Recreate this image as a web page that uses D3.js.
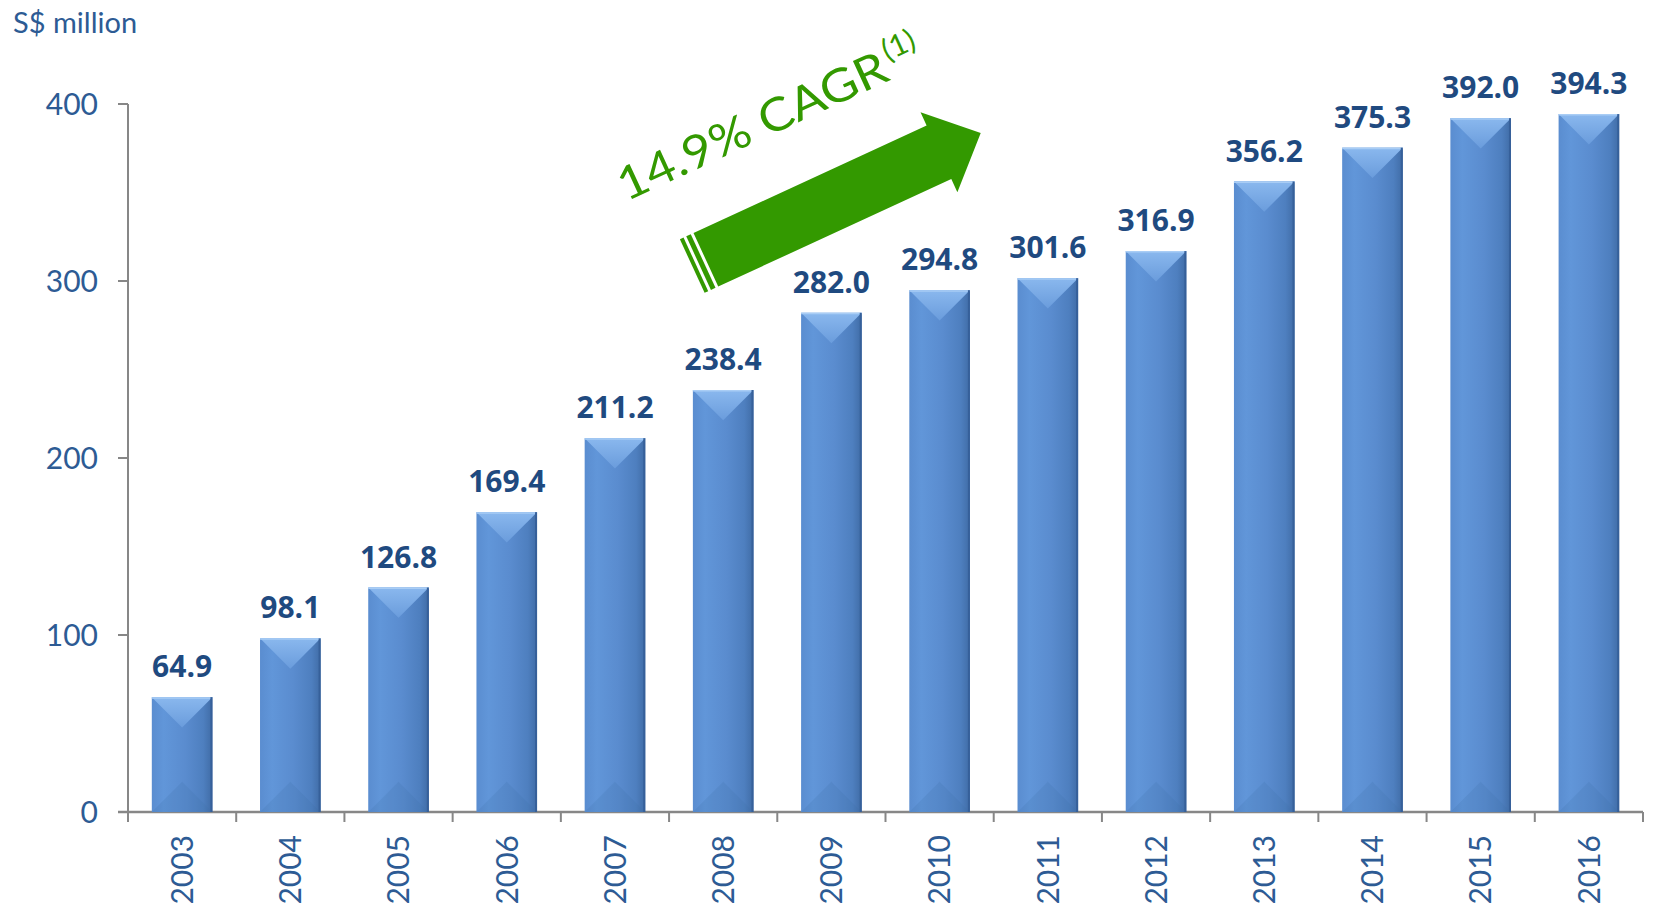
<!DOCTYPE html>
<html>
<head>
<meta charset="utf-8">
<script src="https://cdn.jsdelivr.net/npm/d3@7"></script>
<style>
  body { margin: 0; background: #fff; }
  svg { display: block; }
</style>
</head>
<body>
<script>
// categories & values
var years = ['2003','2004','2005','2006','2007','2008','2009','2010','2011','2012','2013','2014','2015','2016'];
var revenue = [64.9, 98.1, 126.8, 169.4, 211.2, 238.4, 282.0, 294.8, 301.6, 316.9, 356.2, 375.3, 392.0, 394.3];
var yTicks = [0, 100, 200, 300, 400];
var unitLabel = 'S$ million';
var cagrLabel = '14.9% CAGR';
var cagrNote = '(1)';

var W = 1653, H = 916;
var LEFT = 128, RIGHT = 1643, BASE = 812, TOP = 104;

var svg = d3.select('body').append('svg')
  .attr('width', W).attr('height', H);

var x = d3.scaleBand().domain(years).range([LEFT, RIGHT]).padding(0);
var y = d3.scaleLinear().domain([0, 400]).range([BASE, TOP]);
var barW = x.bandwidth() * 0.56;

// ---- gradients for the bevelled bars
var defs = svg.append('defs');
var side = defs.append('linearGradient').attr('id', 'barSide')
  .attr('x1', 0).attr('x2', 1).attr('y1', 0).attr('y2', 0);
side.append('stop').attr('offset', '0%').attr('stop-color', '#5a8dd0');
side.append('stop').attr('offset', '20%').attr('stop-color', '#6196d9');
side.append('stop').attr('offset', '55%').attr('stop-color', '#5a8ccf');
side.append('stop').attr('offset', '85%').attr('stop-color', '#4e7fbf');
side.append('stop').attr('offset', '100%').attr('stop-color', '#406ca6');

var topG = defs.append('linearGradient').attr('id', 'barTop')
  .attr('x1', 0).attr('x2', 0).attr('y1', 0).attr('y2', 1);
topG.append('stop').attr('offset', '0%').attr('stop-color', '#8ab8ee');
topG.append('stop').attr('offset', '100%').attr('stop-color', '#6a9cdc');

// ---- axes
var axisColor = '#878787';
svg.append('line')
  .attr('x1', LEFT).attr('x2', LEFT).attr('y1', y(400)).attr('y2', BASE + 10)
  .attr('stroke', axisColor).attr('stroke-width', 2);
svg.append('line')
  .attr('x1', LEFT - 10).attr('x2', RIGHT).attr('y1', BASE).attr('y2', BASE)
  .attr('stroke', axisColor).attr('stroke-width', 2.5);

svg.selectAll('.ytick').data(yTicks).enter().append('line')
  .attr('x1', LEFT - 10).attr('x2', LEFT)
  .attr('y1', function(d) { return y(d); }).attr('y2', function(d) { return y(d); })
  .attr('stroke', axisColor).attr('stroke-width', 2);

svg.selectAll('.ylab').data(yTicks).enter().append('text')
  .attr('x', 98).attr('y', function(d) { return y(d); })
  .attr('dy', '0.36em')
  .attr('text-anchor', 'end')
  .attr('font-family', 'Lato').attr('font-size', 30)
  .attr('fill', '#2d5b94')
  .text(function(d) { return d; });

// category separators
svg.selectAll('.xtick').data(years).enter().append('line')
  .attr('x1', function(d) { return x(d) + x.step(); })
  .attr('x2', function(d) { return x(d) + x.step(); })
  .attr('y1', BASE).attr('y2', BASE + 10)
  .attr('stroke', axisColor).attr('stroke-width', 2);

svg.selectAll('.xlab').data(years).enter().append('text')
  .attr('transform', function(d) {
    return 'translate(' + (x(d) + x.bandwidth() / 2) + ',' + (BASE + 23) + ') rotate(-90)';
  })
  .attr('dy', '0.36em')
  .attr('text-anchor', 'end')
  .attr('font-family', 'Lato').attr('font-size', 30)
  .attr('fill', '#2d5b94')
  .text(function(d) { return d; });

// ---- bars
var bars = svg.selectAll('.bar').data(revenue).enter().append('g')
  .attr('class', 'bar')
  .attr('transform', function(d, i) {
    return 'translate(' + (x(years[i]) + (x.bandwidth() - barW) / 2) + ',' + y(d) + ')';
  });

bars.append('rect')
  .attr('width', barW)
  .attr('height', function(d) { return BASE - y(d); })
  .attr('fill', 'url(#barSide)');

// top bevel (chevron)
bars.append('path')
  .attr('d', 'M0,0 L' + barW + ',0 L' + (barW / 2) + ',' + (barW / 2) + ' Z')
  .attr('fill', 'url(#barTop)');
bars.append('line')
  .attr('x1', 0).attr('x2', barW).attr('y1', 0.75).attr('y2', 0.75)
  .attr('stroke', '#a9cdf5').attr('stroke-width', 1.5);

// bottom bevel, just a shade darker
bars.append('path')
  .attr('d', function(d) {
    var h = BASE - y(d);
    return 'M0,' + h + ' L' + barW + ',' + h + ' L' + (barW / 2) + ',' + (h - barW / 2) + ' Z';
  })
  .attr('fill', '#3f6ea8').attr('opacity', 0.18);

// right edge shadow
bars.append('rect')
  .attr('x', barW - 2).attr('width', 2)
  .attr('height', function(d) { return BASE - y(d); })
  .attr('fill', '#36609a');

// value labels
svg.selectAll('.val').data(revenue).enter().append('text')
  .attr('x', function(d, i) { return x(years[i]) + x.bandwidth() / 2; })
  .attr('y', function(d) { return y(d) - 20; })
  .attr('text-anchor', 'middle')
  .attr('font-family', 'Open Sans').attr('font-weight', 700).attr('font-size', 30)
  .attr('fill', '#1f4a80')
  .text(function(d) { return d.toFixed(1); });

// unit label
svg.append('text')
  .attr('x', 13).attr('y', 33)
  .attr('font-family', 'Lato').attr('font-size', 29)
  .attr('fill', '#2d5b94')
  .text(unitLabel);

// ---- CAGR arrow, anchored on the scales
var tailX = x('2008') + 0.34 * x.step(), tailY = y(312);
var tipX = x('2010') + 0.88 * x.step(), tipY = y(383.6);
var ang = Math.atan2(tipY - tailY, tipX - tailX);
var L = Math.hypot(tipX - tailX, tipY - tailY);
var green = '#339900';

var arrow = svg.append('g')
  .attr('transform', 'translate(' + tailX + ',' + tailY + ') rotate(' + (ang * 180 / Math.PI) + ')');

var bw = 29.5, hw = 44, hl = 46;
arrow.append('path')
  .attr('d', 'M0,' + (-bw) + ' L' + (L - hl) + ',' + (-bw) + ' L' + (L - hl) + ',' + (-hw) +
    ' L' + L + ',0 L' + (L - hl) + ',' + hw + ' L' + (L - hl) + ',' + bw + ' L0,' + bw + ' Z')
  .attr('fill', green);
arrow.append('rect').attr('x', -15).attr('y', -bw).attr('width', 4).attr('height', 2 * bw).attr('fill', green);
arrow.append('rect').attr('x', -8).attr('y', -bw).attr('width', 5).attr('height', 2 * bw).attr('fill', green);

arrow.append('text')
  .attr('x', -48).attr('y', -86)
  .attr('font-family', 'Lato').attr('font-weight', 400).attr('font-size', 46)
  .attr('textLength', 292).attr('lengthAdjust', 'spacingAndGlyphs')
  .attr('fill', green)
  .text(cagrLabel);
arrow.append('text')
  .attr('x', 248).attr('y', -104)
  .attr('font-family', 'Lato').attr('font-weight', 400).attr('font-size', 30)
  .attr('fill', green)
  .text(cagrNote);
</script>
</body>
</html>
